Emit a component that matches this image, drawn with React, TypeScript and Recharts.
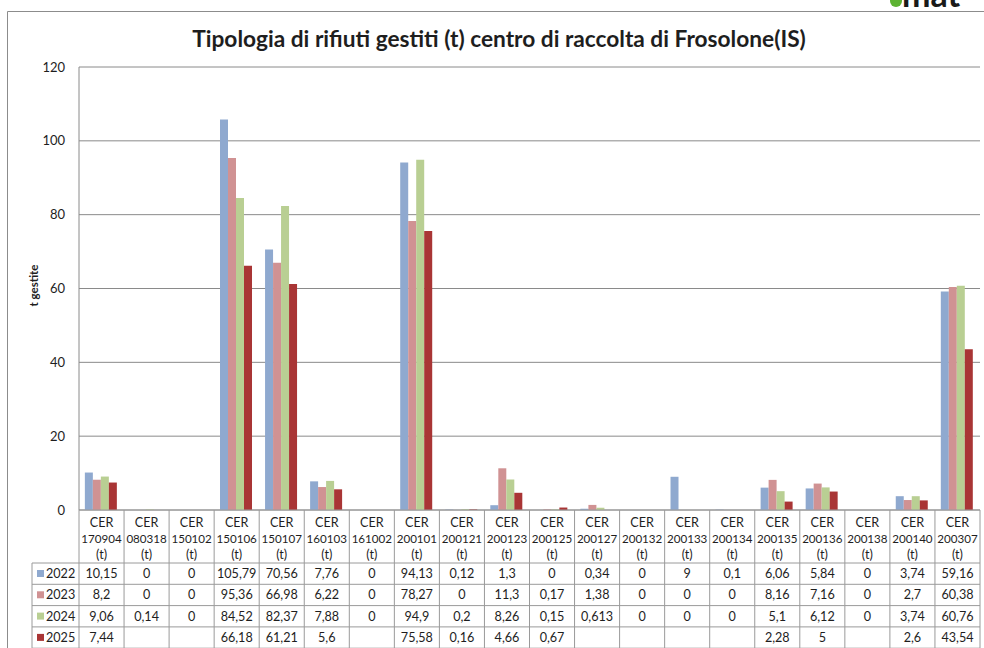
import React from 'react';
import { BarChart, Bar, XAxis, YAxis, CartesianGrid } from 'recharts';

const categories = ['170904', '080318', '150102', '150106', '150107', '160103', '161002', '200101', '200121', '200123', '200125', '200127', '200132', '200133', '200134', '200135', '200136', '200138', '200140', '200307'];
const years = ['2022', '2023', '2024', '2025'];
const values2022: (number | null)[] = [10.15, 0, 0, 105.79, 70.56, 7.76, 0, 94.13, 0.12, 1.3, 0, 0.34, 0, 9, 0.1, 6.06, 5.84, 0, 3.74, 59.16];
const values2023: (number | null)[] = [8.2, 0, 0, 95.36, 66.98, 6.22, 0, 78.27, 0, 11.3, 0.17, 1.38, 0, 0, 0, 8.16, 7.16, 0, 2.7, 60.38];
const values2024: (number | null)[] = [9.06, 0.14, 0, 84.52, 82.37, 7.88, 0, 94.9, 0.2, 8.26, 0.15, 0.613, 0, 0, 0, 5.1, 6.12, 0, 3.74, 60.76];
const values2025: (number | null)[] = [7.44, null, null, 66.18, 61.21, 5.6, null, 75.58, 0.16, 4.66, 0.67, null, null, null, null, 2.28, 5, null, 2.6, 43.54];
const yTicks = [0, 20, 40, 60, 80, 100, 120];

const seriesValues = [values2022, values2023, values2024, values2025];
const colors = ['#8FA9CF', '#D09293', '#B9CF93', '#A93535'];

const data = categories.map((c, i) => {
  const row: Record<string, any> = { name: c };
  years.forEach((y, k) => {
    row['y' + y] = seriesValues[k][i];
  });
  return row;
});

const W = 984;
const H = 648;
const TOP = 67;
const RIGHT = 4;
const YAXIS_W = 79;
const XAXIS_H = 138;
const PLOT_W = W - YAXIS_W - RIGHT;
const CELL_W = PLOT_W / categories.length;
const FONT = 'Lato, sans-serif';
const LINE = '#9a9a9a';
const TEXT = '#1e1e1e';
const FS = 11.6;

const fmt = (v: number | null) => (v === null || v === undefined ? '' : String(v).replace('.', ','));

const TableTick = (props: any) => {
  const { x, payload } = props;
  const i = payload.index;
  const top = H - XAXIS_H;
  const headerBottom = top + 53;
  const rowH = 21.3;
  const x0 = x - CELL_W / 2;
  const x1 = x + CELL_W / 2;
  const legendLeft = 32;
  const els: React.ReactNode[] = [];
  els.push(<line key="vr" x1={x1} y1={top} x2={x1} y2={H} stroke={LINE} strokeWidth={1} />);
  if (i === 0) {
    els.push(<line key="vl" x1={x0} y1={top} x2={x0} y2={H} stroke={LINE} strokeWidth={1} />);
    els.push(<line key="vleg" x1={legendLeft} y1={headerBottom} x2={legendLeft} y2={H} stroke={LINE} strokeWidth={1} />);
  }
  for (let k = 0; k <= 4; k++) {
    const yy = headerBottom + k * rowH;
    els.push(<line key={'h' + k} x1={i === 0 ? legendLeft : x0} y1={yy} x2={x1} y2={yy} stroke={LINE} strokeWidth={1} />);
  }
  els.push(
    <text key="t1" x={x} y={top + 17} textAnchor="middle" fontSize={12.6} fontFamily={FONT} fill={TEXT}>CER</text>,
    <text key="t2" x={x} y={top + 33} textAnchor="middle" fontSize={FS} fontFamily={FONT} fill={TEXT}>{payload.value}</text>,
    <text key="t3" x={x} y={top + 49} textAnchor="middle" fontSize={12.6} fontFamily={FONT} fill={TEXT}>(t)</text>
  );
  years.forEach((yr, k) => {
    const rowTop = headerBottom + k * rowH;
    els.push(
      <text key={'v' + k} x={x} y={rowTop + 15} textAnchor="middle" fontSize={12.6} fontFamily={FONT} fill={TEXT}>
        {fmt(seriesValues[k][i])}
      </text>
    );
    if (i === 0) {
      els.push(<rect key={'lg' + k} x={37} y={rowTop + 7} width={7} height={7} fill={colors[k]} />);
      els.push(
        <text key={'lt' + k} x={46} y={rowTop + 15} fontSize={12.6} fontFamily={FONT} fill={TEXT}>{yr}</text>
      );
    }
  });
  return <g>{els}</g>;
};

const YLabel = (props: any) => {
  const vb = props.viewBox || { x: 0, y: TOP, width: YAXIS_W, height: H - XAXIS_H - TOP };
  const cx = 33;
  const cy = vb.y + vb.height / 2 - 3;
  return (
    <text x={cx} y={cy} transform={`rotate(-90 ${cx} ${cy})`} textAnchor="middle" dominantBaseline="central" fontSize={11.5} fontWeight="bold" fontFamily={FONT} fill={TEXT}>
      t gestite
    </text>
  );
};

export default function App() {
  return (
    <div style={{ position: 'absolute', left: 0, top: 0, width: W, height: H, overflow: 'hidden', background: '#fff' }}>
      <svg width={W} height={H} style={{ position: 'absolute', left: 0, top: 0 }}>
        <line x1={7.5} y1={11.5} x2={W} y2={11.5} stroke="#8c8c8c" strokeWidth={1} />
        <line x1={7.5} y1={11.5} x2={7.5} y2={H} stroke="#8c8c8c" strokeWidth={1} />
        <circle cx={896} cy={1} r={6} fill="#5DB332" />
        <text x={902} y={7} fontSize={34} fontWeight="bold" fontFamily={FONT} fill="#1a1a1a">mat</text>
        <text x={499} y={47} textAnchor="middle" fontSize={22.7} fontWeight="bold" fontFamily={FONT} fill={TEXT}>
          Tipologia di rifiuti gestiti (t) centro di raccolta di Frosolone(IS)
        </text>
      </svg>
      <div style={{ position: 'absolute', left: 0, top: 0 }}>
        <BarChart
          width={W}
          height={H}
          data={data}
          margin={{ top: TOP, right: RIGHT, bottom: 0, left: 0 }}
          barCategoryGap="13%"
          barGap={0}
        >
          <CartesianGrid vertical={false} stroke="#8a8a8a" strokeWidth={1} />
          <XAxis
            dataKey="name"
            height={XAXIS_H}
            interval={0}
            tickLine={false}
            axisLine={{ stroke: LINE }}
            tick={<TableTick />}
          />
          <YAxis
            width={YAXIS_W}
            domain={[0, 120]}
            ticks={yTicks}
            tickLine={false}
            axisLine={{ stroke: '#8a8a8a' }}
            tickMargin={8}
            tick={{ fontSize: 13, fontFamily: FONT, fill: TEXT }}
            label={<YLabel />}
          />
          {years.map((y, k) => (
            <Bar key={y} dataKey={'y' + y} fill={colors[k]} isAnimationActive={false} />
          ))}
        </BarChart>
      </div>
    </div>
  );
}
